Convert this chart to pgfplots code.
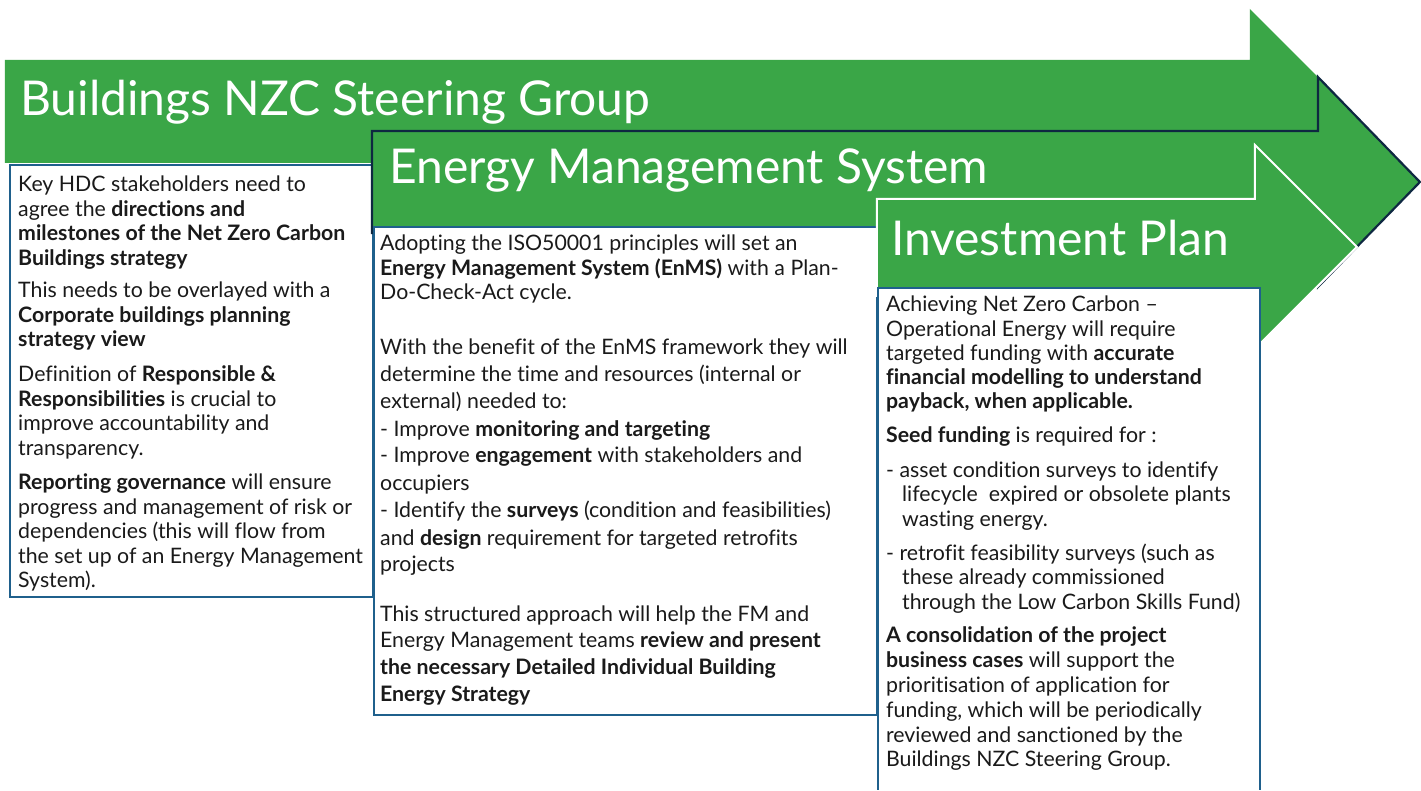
\documentclass[border=0pt]{standalone}
\usepackage{pgfplots}
\pgfplotsset{compat=1.18}
\usepackage{fontspec}
\setmainfont{Lato}[Ligatures=NoCommon]
\definecolor{arrgreen}{RGB}{58,166,71}
\definecolor{navy}{RGB}{14,40,65}
\definecolor{boxblue}{RGB}{31,96,140}
\definecolor{txt}{RGB}{26,26,26}
\newcommand\bodyfont{\fontsize{21.3}{24}\selectfont\color{txt}}
\newcommand\titlefont{\fontsize{48}{52}\selectfont\color{white}}
\newcommand\Ln[3]{\node[anchor=base west,inner sep=0pt,font=\bodyfont] at (axis cs:#1,#2) {#3};}
\begin{document}
\begin{tikzpicture}
\begin{axis}[
  x=1pt, y=1pt, y dir=reverse,
  xmin=0, xmax=1421, ymin=0, ymax=790,
  scale only axis, hide axis, clip=false,
]
% background
\addplot[fill=white, draw=none] coordinates {(0,0) (1421,0) (1421,790) (0,790)} --cycle;
% arrow 1
\addplot[fill=arrgreen, draw=none] coordinates {(5,60) (1250,60) (1250,9) (1352,111) (1250,214) (1250,163) (5,163)} --cycle;
% box 1
\addplot[fill=white, draw=boxblue, line width=2pt] coordinates {(10,165) (373,165) (373,597) (10,597)} --cycle;
% arrow 2
\addplot[fill=arrgreen, draw=navy, line width=2.2pt, line join=miter] coordinates {(372,131) (1318,131) (1318,77) (1420,182) (1318,287) (1318,233) (372,233)} --cycle;
% box 2
\addplot[fill=white, draw=boxblue, line width=2pt] coordinates {(374,227) (877,227) (877,715) (374,715)} --cycle;
% arrow 3
\addplot[fill=arrgreen, draw=white, line width=2pt, line join=miter] coordinates {(877,199) (1255,199) (1255,145) (1357,247) (1255,349) (1255,296) (877,296)} --cycle;
% box 3
\addplot[fill=white, draw=none] coordinates {(878,288) (1260,288) (1260,790) (878,790)} --cycle;
\addplot[draw=boxblue, line width=2pt] coordinates {(878,790) (878,288) (1260,288) (1260,790)};
% titles
\node[anchor=base west,inner sep=0pt,font=\titlefont] at (axis cs:20,116) {Buildings NZC Steering Group};
\node[anchor=base west,inner sep=0pt,font=\titlefont] at (axis cs:389,184) {Energy Management System};
\node[anchor=base west,inner sep=0pt,font=\titlefont] at (axis cs:891,256) {Investment Plan};
% box 1 text
\Ln{18}{192}{Key HDC stakeholders need to}
\Ln{18}{216.5}{agree the \textbf{directions and}}
\Ln{18}{241}{\textbf{milestones of the Net Zero Carbon}}
\Ln{18}{265.5}{\textbf{Buildings strategy}}
\Ln{18}{298}{This needs to be overlayed with a}
\Ln{18}{322.5}{\textbf{Corporate buildings planning}}
\Ln{18}{347}{\textbf{strategy view}}
\Ln{18}{382}{Definition of \textbf{Responsible \&}}
\Ln{18}{406.5}{\textbf{Responsibilities} is crucial to}
\Ln{18}{431}{improve accountability and}
\Ln{18}{455.5}{transparency.}
\Ln{18}{490}{\textbf{Reporting governance} will ensure}
\Ln{18}{514.5}{progress and management of risk or}
\Ln{18}{539}{dependencies (this will flow from}
\Ln{18}{563.5}{the set up of an Energy Management}
\Ln{18}{588}{System).}
% box 2 text
\Ln{380}{251}{Adopting the ISO50001 principles will set an}
\Ln{380}{276}{\textbf{Energy Management System (EnMS)} with a Plan-}
\Ln{380}{300}{Do-Check-Act cycle.}
\Ln{380}{355}{With the benefit of the EnMS framework they will}
\Ln{380}{382}{determine the time and resources (internal or}
\Ln{380}{409}{external) needed to:}
\Ln{380}{437}{- Improve \textbf{monitoring and targeting}}
\Ln{380}{463}{- Improve \textbf{engagement} with stakeholders and}
\Ln{380}{491}{occupiers}
\Ln{380}{518}{- Identify the \textbf{surveys} (condition and feasibilities)}
\Ln{380}{546}{and \textbf{design} requirement for targeted retrofits}
\Ln{380}{572}{projects}
\Ln{380}{622}{This structured approach will help the FM and}
\Ln{380}{648}{Energy Management teams \textbf{review and present}}
\Ln{380}{675}{\textbf{the necessary Detailed Individual Building}}
\Ln{380}{702}{\textbf{Energy Strategy}}
% box 3 text
\Ln{886}{312}{Achieving Net Zero Carbon –}
\Ln{886}{337}{Operational Energy will require}
\Ln{886}{361}{targeted funding with \textbf{accurate}}
\Ln{886}{385}{\textbf{financial modelling to understand}}
\Ln{886}{409}{\textbf{payback, when applicable.}}
\Ln{886}{443}{\textbf{Seed funding} is required for :}
\Ln{886}{478}{- asset condition surveys to identify}
\Ln{902}{502}{lifecycle\ \ expired or obsolete plants}
\Ln{902}{527}{wasting energy.}
\Ln{886}{561}{- retrofit feasibility surveys (such as}
\Ln{902}{585}{these already commissioned}
\Ln{902}{610}{through the Low Carbon Skills Fund)}
\Ln{886}{643}{\textbf{A consolidation of the project}}
\Ln{886}{668}{\textbf{business cases} will support the}
\Ln{886}{693}{prioritisation of application for}
\Ln{886}{718}{funding, which will be periodically}
\Ln{886}{743}{reviewed and sanctioned by the}
\Ln{886}{767}{Buildings NZC Steering Group.}
\end{axis}
\end{tikzpicture}
\end{document}
